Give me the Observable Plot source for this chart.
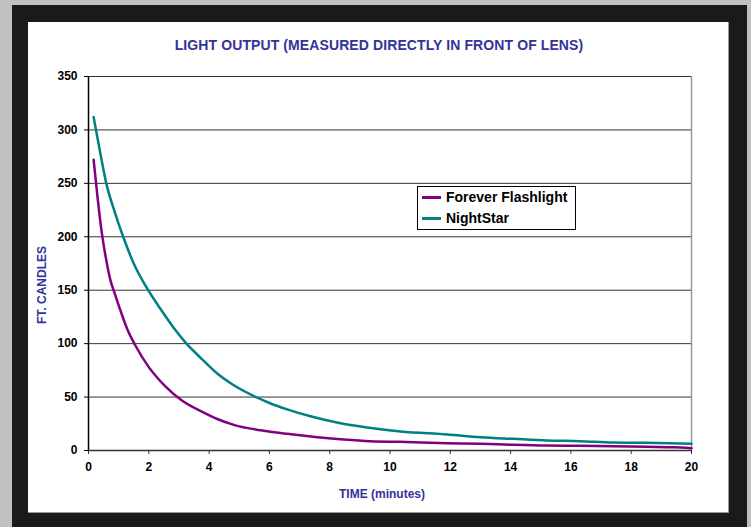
<!DOCTYPE html>
<html>
<head>
<meta charset="utf-8">
<script src="https://cdn.jsdelivr.net/npm/d3@7"></script>
<script src="https://cdn.jsdelivr.net/npm/@observablehq/plot@0.6"></script>
<style>
  html, body { margin: 0; padding: 0; }
  body { width: 751px; height: 527px; background: #c0c0c0; position: relative; overflow: hidden; font-family: "Liberation Sans", Arial, sans-serif; }
  #frame { position: absolute; left: 12px; top: 5px; width: 735px; height: 522px; background: #1a1a1a; }
  #panel { position: absolute; left: 28px; top: 22px; width: 700px; height: 490px; background: #fff; border-right: 1px solid #999; border-bottom: 1px solid #999; }
  #chart { position: absolute; left: 0; top: 0; }
  .title { position: absolute; left: 0; width: 758px; text-align: center; top: 37px; color: #333399; font-weight: bold; font-size: 14px; letter-spacing: 0.1px; }
  .xlabel { position: absolute; left: 0; width: 764px; text-align: center; top: 487px; color: #333399; font-weight: bold; font-size: 12px; }
  .ylabel { position: absolute; left: 42px; top: 285px; transform: translate(-50%, -50%) rotate(-90deg); color: #333399; font-weight: bold; font-size: 12px; white-space: nowrap; }
  #legend { position: absolute; left: 417px; top: 186px; width: 157px; height: 42px; border: 1px solid #000; background: #fff; }
  .item { position: absolute; left: 4px; display: flex; align-items: center; font-weight: bold; font-size: 14px; color: #000; white-space: nowrap; }
  .swatch { width: 19px; height: 3px; margin-right: 5px; }
</style>
</head>
<body>
<div id="frame"></div>
<div id="panel"></div>
<div id="chart"></div>
<div class="title">LIGHT OUTPUT (MEASURED DIRECTLY IN FRONT OF LENS)</div>
<div class="xlabel">TIME (minutes)</div>
<div class="ylabel">FT. CANDLES</div>
<div id="legend"></div>
<script>
const seriesNames = ["Forever Flashlight", "NightStar"];
const seriesColors = ["#800080", "#008080"];
const foreverTimes = [0.17, 0.3, 0.43, 0.59, 0.73, 0.87, 1.06, 1.28, 1.56, 2.0, 2.55, 3.11, 3.71, 4.27, 4.82, 5.93, 6.59, 7.59, 8.47, 9.35, 10.3, 11.9, 13.0, 14.1, 15.2, 16.3, 17.4, 18.5, 19.4, 20];
const foreverValues = [272, 237, 206, 178, 159, 147, 131, 114, 98, 78, 60, 46.5, 37, 29.5, 24, 18, 15.6, 12.5, 10.3, 8.7, 8.1, 6.9, 6.3, 5.3, 4.6, 4.4, 4.0, 3.4, 3.0, 2.2];
const nightTimes = [0.17, 0.4, 0.59, 0.85, 1.15, 1.5, 1.98, 2.4, 2.9, 3.22, 3.71, 4.27, 4.82, 5.6, 6.04, 6.59, 7.36, 8.36, 9.24, 10.35, 11.9, 13.0, 14.1, 15.2, 16.3, 17.4, 18.5, 20];
const nightValues = [312, 277, 250, 225, 200, 175, 150, 132, 112, 101, 87, 72, 61, 49.4, 44, 38.5, 32, 25.5, 21.5, 17.8, 15, 12.5, 10.9, 9.4, 8.75, 7.5, 7.2, 6.3];
const xTicks = [0, 2, 4, 6, 8, 10, 12, 14, 16, 18, 20];
const yTicks = [0, 50, 100, 150, 200, 250, 300, 350];

const data = [
  ...foreverTimes.map((t, i) => ({series: seriesNames[0], t, v: foreverValues[i]})),
  ...nightTimes.map((t, i) => ({series: seriesNames[1], t, v: nightValues[i]}))
];

const chart = Plot.plot({
  width: 751,
  height: 527,
  marginLeft: 88,
  marginRight: 60,
  marginTop: 76,
  marginBottom: 77,
  style: {background: "transparent", fontFamily: "'Liberation Sans', Arial, sans-serif", fontSize: "12px", fontWeight: "bold", color: "#000", overflow: "visible"},
  x: {domain: [0, 20], label: null},
  y: {domain: [0, 350], label: null},
  color: {domain: seriesNames, range: seriesColors},
  marks: [
    Plot.gridY(yTicks, {stroke: "#333", strokeOpacity: 1, strokeWidth: 1}),
    Plot.ruleX([20], {stroke: "#999", strokeWidth: 1.5}),
    Plot.axisY(yTicks, {tickSize: 4, tickPadding: 7, tickFormat: d => d, label: null, stroke: "#000"}),
    Plot.axisX(xTicks, {tickSize: 4, tickPadding: 8, tickFormat: d => d, label: null, stroke: "#333"}),
    Plot.ruleX([0], {stroke: "#000", strokeWidth: 1.5}),
    Plot.ruleY([0], {stroke: "#333", strokeWidth: 1.5}),
    Plot.line(data, {x: "t", y: "v", z: "series", stroke: "series", strokeWidth: 2.5, strokeLinejoin: "round", curve: "monotone-x"})
  ]
});
document.getElementById("chart").appendChild(chart);

const legend = document.getElementById("legend");
seriesNames.forEach((name, i) => {
  const item = document.createElement("div");
  item.className = "item";
  item.style.top = (i === 0 ? 2 : 23) + "px";
  const sw = document.createElement("span");
  sw.className = "swatch";
  sw.style.background = seriesColors[i];
  const label = document.createElement("span");
  label.textContent = name;
  item.appendChild(sw);
  item.appendChild(label);
  legend.appendChild(item);
});
</script>
</body>
</html>
